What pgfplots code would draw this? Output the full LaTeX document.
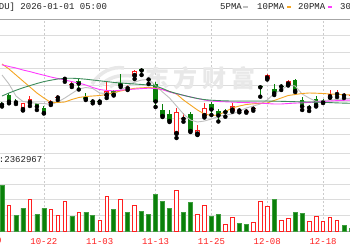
\documentclass[border=0pt]{standalone}
\usepackage{pgfplots}
\usepackage{pgfplotstable}
\pgfplotsset{compat=1.18}
\usepackage{fontspec}
\setmainfont{Liberation Sans}
\newfontfamily\mono{Liberation Mono}
\newfontfamily\cjk{Noto Sans CJK SC}
\definecolor{cg}{HTML}{0A800A}
\definecolor{cgl}{HTML}{3E9E3E}
\definecolor{cr}{HTML}{FF2020}
\definecolor{ma5}{HTML}{C0C0C0}
\definecolor{ma10}{HTML}{F5A623}
\definecolor{ma20}{HTML}{FF3CFF}
\definecolor{ma30}{HTML}{3C8C5A}
\definecolor{gridc}{HTML}{DCDCDC}
\definecolor{vgrid}{HTML}{CCCCCC}
\definecolor{txt}{HTML}{222222}
\definecolor{wm}{HTML}{E8E8E8}

\pgfplotstableread{
x lo hi bot top
0 44.5 49.5 46.3 47.3
1 47.7 58.3 49.3 56
2 47 52 48.7 49.7
5 41 48.5 44.3 47.7
6 37.5 45 38 43.5
9 69.3 74.5 72.2 73.2
11 61.5 72.7 67.3 70.5
12 51 58 52 54.3
13 47.7 52.5 49.5 50.5
14 48 52 49.5 50.5
16 55.5 61 56.3 60
17 64 77 65.5 67.7
20 76 83.5 80.5 82.5
21 67 73.5 71.5 72.5
22 44 69 49.5 67
23 34 47 35 41
24 29 41 30 37.5
27 19 39 20 37.5
30 36 49.5 41.5 47.5
31 29.5 42.5 35.5 40
32 34.3 41.7 38.8 39.8
37 54.3 66 63.7 64.7
39 56 67 57.7 62
40 61 67.5 64.5 65.5
42 59 72.5 60 71
43 41 54 44.5 51.5
44 40 46 43.2 44.2
45 44.5 55 46 52.5
46 48 52 48.5 51.5
}\green
\pgfplotstableread{
x lo hi bot top
3 40.5 48.5 41 47.7
4 45 55 48 52
15 53 69 55.5 60
19 72 81.5 75 80.5
25 13 43 17 39
28 16 26 16.5 21.5
29 33.5 48 35 43
33 39.3 47.7 40.5 45
38 71.5 77.5 72.5 76
41 65.5 71.5 66.5 70
47 53.3 61.5 53.7 57
}\redh
\pgfplotstableread{
x lo hi bot top
7 46 51 48 49
8 51 56 53.5 54.5
10 64 69 66 67
18 61 66 62.8 63.8
26 29.3 37.7 32.2 33.2
34 38.7 43.3 40.5 41.5
35 38.3 42 39.5 40.5
36 40.3 45 42.2 43.2
48 54 61 57 58
49 53 58 55.5 56.5
50 54 58 55.5 56.5
}\redd
\pgfplotstableread{
x m5 m10 m20 m30
0 76 87 86.2 55
1 67 82 84.5 58
2 55 76 83 60.7
3 49.5 70 81 63.2
4 48.5 64 79.4 65.4
5 47.7 58 77.5 67.5
6 47.5 53 75.8 69.4
7 46.5 48.6 74 70.8
8 49 48.5 72.5 72
9 53 49 71 72.7
10 57.5 51.5 69.4 72.8
11 62 53.5 68 72.4
12 63.5 54.5 66 71.8
13 62.5 55 63.5 71
14 58 55.5 61.5 70.2
15 57.5 56.5 60.5 69.4
16 57 58.5 60.2 68.6
17 61 60 60.8 68
18 65 61.5 61.4 67.5
19 69 62.7 61.9 67
20 71 63.2 62.4 66.5
21 71.5 63.5 62.8 66
22 65.5 63 62.5 65
23 59 61.5 61.3 62.5
24 53 59.5 59 59.5
25 45 57 57.2 57.5
26 37 51 55.7 55.7
27 31 46 54 54
28 29 41 52.5 52.5
29 30 37 51 51.4
30 32 35.5 50 50.8
31 34.5 36 49.5 50.4
32 36 39.5 49.2 50.1
33 37 43 48.9 50
34 40 45 48.6 50
35 43 46.5 48.4 50
36 45 47.2 48.2 50
37 47 47.7 47.9 50
38 51 48 47.4 50
39 57.5 50.5 47 49.8
40 61 53 47 49.7
41 66 55.5 47.5 49.5
42 65 56.5 47.9 49.3
43 57 57.5 48.2 49.1
44 53 58 48.6 49
45 49.5 57.8 49 48.9
46 50.5 57.5 49.5 48.7
47 51 57 50 48.4
48 51.5 56.7 50.4 48.1
49 52.2 56.4 50.7 47.9
50 52.7 56 51 47.7
}\ma
\pgfplotstableread{
x v
1 25.3
4 31.7
7 21.7
8 16
9 29.7
11 19
14 11
15 34.3
17 31.7
19 25.3
25 41
28 16.3
29 26
32 6.3
33 13.7
36 8.3
37 29.7
38 24.7
40 11
41 13
44 10
45 15
46 10
47 14
48 11
}\volr
\pgfplotstableread{
x v
0 45.3
2 15.3
3 22.7
5 16.3
6 22.7
10 14.7
12 19
13 15.3
16 21.7
18 18.3
20 20
21 16.3
22 36.7
23 30
24 22.7
26 18.3
27 29
30 14.7
31 16.3
34 7.7
35 6.3
39 32
42 18.7
43 17.7
49 5.7
50 2.7
}\volg

\pgfplotsset{
  base/.style={width=350pt, scale only axis, xmin=-0.2865, xmax=49.857,
    axis line style={draw=none}, tick style={draw=none},
    xtick={6,14,22,30,38,46}, ytick=\empty,
    yticklabels={}, clip=true},
  wick/.style={only marks, mark=none, forget plot, error bars/.cd, y dir=plus, y explicit,
    error mark=none, error bar style={line width=1pt, draw=#1}},
  body/.style 2 args={only marks, mark=none, forget plot, error bars/.cd, y dir=plus, y explicit,
    error mark=none, error bar style={line width=#2, draw=#1}},
}

\begin{document}
\begin{tikzpicture}[x=1pt,y=1pt]
\useasboundingbox (0,0) rectangle (350,250);
\clip (0,0) rectangle (350,250);
\fill[white] (0,0) rectangle (350,250);

% grid lines
\foreach \yy in {115.5,132,148.5,165,181.5,198,214.5} {\draw[gridc, line width=0.9pt] (0,\yy) -- (350,\yy);}
\foreach \yy in {34.6,50.2,65.8,81.4,97} {\draw[gridc, line width=0.9pt] (0,\yy) -- (350,\yy);}
\foreach \xx in {43.9,99.7,155.6,211.4,267.2,323.1} {\draw[vgrid, line width=0.8pt, dash pattern=on 2pt off 2pt] (\xx,19) -- (\xx,231);}
\draw[gray!70, line width=0.9pt] (0,231) -- (350,231);
\draw[gray!70, line width=0.9pt] (0,19) -- (350,19);

% watermark
\begin{scope}[wm]
\draw[line width=3.5pt] (92,166) .. controls (100,178) and (112,184) .. (124,182);
\draw[line width=3.5pt] (100,164) .. controls (108,172) and (118,176) .. (132,174);
\draw[line width=3.5pt] (110,163) .. controls (116,168) and (124,170) .. (136,167);
\end{scope}
\node[text=wm, font=\cjk\bfseries\fontsize{24}{24}\selectfont, inner sep=0] at (157,172) {东};
\node[text=wm, font=\cjk\bfseries\fontsize{24}{24}\selectfont, inner sep=0] at (185,172) {方};
\node[text=wm, font=\cjk\bfseries\fontsize{24}{24}\selectfont, inner sep=0] at (214,172) {财};
\node[text=wm, font=\cjk\bfseries\fontsize{24}{24}\selectfont, inner sep=0] at (243,172) {富};

% price panel
\begin{axis}[base, at={(0pt,231pt)}, anchor=north west, height=132pt,
  ymin=0, ymax=132, xticklabels={}]
\addplot[wick=cg] table[x=x, y=lo, y error plus expr=\thisrow{hi}-\thisrow{lo}] {\green};
\addplot[body={cg}{4.6pt}] table[x=x, y=bot, y error plus expr=\thisrow{top}-\thisrow{bot}] {\green};
\addplot[wick=cr] table[x=x, y=lo, y error plus expr=\thisrow{hi}-\thisrow{lo}] {\redh};
\addplot[body={cr}{4.8pt}] table[x=x, y=bot, y error plus expr=\thisrow{top}-\thisrow{bot}] {\redh};
\addplot[body={white}{2.8pt}] table[x=x, y expr=\thisrow{bot}+1, y error plus expr=\thisrow{top}-\thisrow{bot}-2] {\redh};
\addplot[wick=cr] table[x=x, y=lo, y error plus expr=\thisrow{hi}-\thisrow{lo}] {\redd};
\addplot[body={cr}{4.8pt}] table[x=x, y=bot, y error plus expr=\thisrow{top}-\thisrow{bot}] {\redd};
\addplot[ma5, line width=0.9pt, mark=none] table[x=x, y=m5] {\ma};
\addplot[ma10, line width=0.9pt, mark=none] table[x=x, y=m10] {\ma};
\addplot[ma20, line width=0.9pt, mark=none] table[x=x, y=m20] {\ma};
\addplot[ma30, line width=0.9pt, mark=none] table[x=x, y=m30] {\ma};
\end{axis}

% volume panel
\begin{axis}[base, at={(0pt,97pt)}, anchor=north west, height=78pt,
  ymin=0, ymax=78,
  xticklabels={10-22,11-03,11-13,11-25,12-08,12-18},
  xticklabel style={text=cr, font=\mono\fontsize{9}{9}\selectfont, yshift=-4pt},
  bar width=3.6pt]
\addplot[ybar, draw=cr, fill=white, line width=0.8pt, bar shift=0pt] table[x=x, y=v] {\volr};
\addplot[ybar, draw=cgl, fill=cg, line width=0.5pt, bar width=4pt, bar shift=0pt] table[x=x, y=v] {\volg};
\end{axis}

\node[text=cr, font=\mono\fontsize{9}{9}\selectfont] at (-12,9) {10-10};

% header texts
\node[anchor=west, inner sep=0, text=txt, font=\mono\fontsize{9}{9}\selectfont] at (-17.5,243) {[BIDU] 2026-01-01 05:00};
\node[anchor=west, inner sep=0, text=txt, font=\mono\fontsize{9}{9}\selectfont] at (-17.4,90) {VOL:2362967};
\node[anchor=west, inner sep=0, text=txt, font=\mono\fontsize{9}{9}\selectfont] at (220,243) {5PMA};
\fill[ma5] (243,242) rectangle (248,244.5);
\node[anchor=west, inner sep=0, text=txt, font=\mono\fontsize{9}{9}\selectfont] at (257,243) {10PMA};
\fill[ma10] (287,242) rectangle (291,244.5);
\node[anchor=west, inner sep=0, text=txt, font=\mono\fontsize{9}{9}\selectfont] at (298,243) {20PMA};
\fill[ma20] (328,242) rectangle (332,244.5);
\node[anchor=west, inner sep=0, text=txt, font=\mono\fontsize{9}{9}\selectfont] at (340,243) {30PMA};
\end{tikzpicture}
\end{document}
